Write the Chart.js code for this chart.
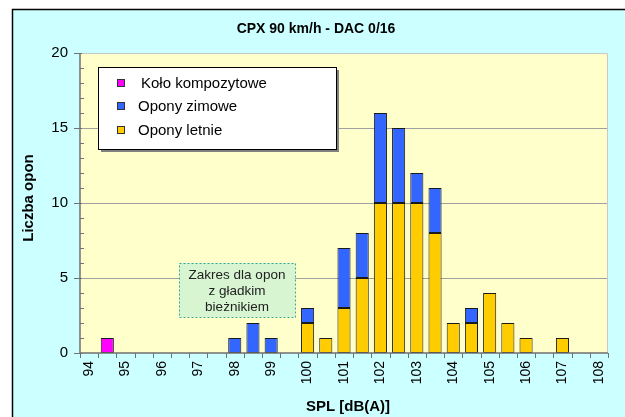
<!DOCTYPE html>
<html>
<head>
<meta charset="utf-8">
<script src="https://cdn.jsdelivr.net/npm/chart.js@4/dist/chart.umd.min.js"></script>
<style>
html,body{margin:0;padding:0;background:#fff;}
#wrap{width:625px;height:417px;position:relative;}
</style>
</head>
<body>
<div id="wrap"><canvas id="c" width="625" height="417"></canvas></div>
<script>
// ---- data ----
const categories = ['94','94.5','95','95.5','96','96.5','97','97.5','98','98.5','99','99.5','100','100.5','101','101.5','102','102.5','103','103.5','104','104.5','105','105.5','106','106.5','107','107.5','108'];
const xTickLabels = ['94','95','96','97','98','99','100','101','102','103','104','105','106','107','108'];
const oponyLetnie  = [0,0,0,0,0,0,0,0,0,0,0,0,2,1,3,5,10,10,10,8,2,2,4,2,1,0,1,0,0];
const oponyZimowe  = [0,0,0,0,0,0,0,0,1,2,1,0,1,0,4,3,6,5,2,3,0,1,0,0,0,0,0,0,0];
const koloKompozyt = [0,1,0,0,0,0,0,0,0,0,0,0,0,0,0,0,0,0,0,0,0,0,0,0,0,0,0,0,0];
const yTicks = [0,5,10,15,20];
const chartTitle = 'CPX 90 km/h - DAC 0/16';
const xTitle = 'SPL [dB(A)]';
const yTitle = 'Liczba opon';
const noteLines = ['Zakres dla opon','z gładkim','bieżnikiem'];

const FONT = '"Liberation Sans", Arial, sans-serif';

const decor = {
  id: 'decor',
  beforeDraw(chart) {
    const ctx = chart.ctx, a = chart.chartArea, y = chart.scales.y;
    ctx.save();
    ctx.fillStyle = '#ffffff';
    ctx.fillRect(0, 0, 625, 417);
    ctx.fillStyle = '#ccffff';
    ctx.fillRect(12, 9, 620, 415);
    ctx.strokeStyle = '#000';
    ctx.lineWidth = 1.5;
    ctx.strokeRect(12.5, 9.5, 620, 415);
    ctx.fillStyle = '#ffffcc';
    ctx.fillRect(a.left, a.top, a.right - a.left, a.bottom - a.top);
    // gridlines
    ctx.strokeStyle = '#a0a0a0';
    ctx.lineWidth = 1;
    yTicks.forEach(v => {
      if (v === 0 || v === 20) return;
      const py = Math.round(y.getPixelForValue(v)) + 0.5;
      ctx.beginPath(); ctx.moveTo(a.left, py); ctx.lineTo(a.right, py); ctx.stroke();
    });
    // top/right border
    ctx.strokeStyle = '#c8c8c8';
    ctx.beginPath();
    ctx.moveTo(a.left, a.top + 0.5); ctx.lineTo(a.right - 0.5, a.top + 0.5); ctx.lineTo(a.right - 0.5, a.bottom);
    ctx.stroke();
    ctx.restore();
  },
  afterDatasetsDraw(chart) {
    const ctx = chart.ctx, a = chart.chartArea, x = chart.scales.x, y = chart.scales.y;
    ctx.save();
    // axes
    ctx.strokeStyle = '#707070';
    ctx.lineWidth = 1.5;
    ctx.beginPath();
    ctx.moveTo(a.left, a.top); ctx.lineTo(a.left, a.bottom); ctx.lineTo(a.right, a.bottom);
    ctx.stroke();
    ctx.lineWidth = 1;
    // y ticks: minor each unit (inside), major every 5 (crossing)
    for (let v = 0; v <= 20; v++) {
      const py = Math.round(y.getPixelForValue(v)) + 0.5;
      ctx.beginPath();
      if (v % 5 === 0) { ctx.moveTo(a.left - 6, py); ctx.lineTo(a.left + 2, py); }
      else { ctx.moveTo(a.left, py); ctx.lineTo(a.left + 4, py); }
      ctx.stroke();
    }
    // x ticks at category boundaries
    const n = categories.length;
    const w = (a.right - a.left) / n;
    for (let i = 0; i <= n; i++) {
      const px = Math.round(a.left + i * w) + 0.5;
      ctx.beginPath(); ctx.moveTo(px, a.bottom); ctx.lineTo(px, a.bottom + 5); ctx.stroke();
    }
    // legend box
    const lx = 98, ly = 67, lw = 238, lh = 82;
    ctx.fillStyle = '#808080';
    ctx.fillRect(lx + 3, ly + 3, lw, lh);
    ctx.fillStyle = '#ffffff';
    ctx.fillRect(lx, ly, lw, lh);
    ctx.strokeStyle = '#000';
    ctx.lineWidth = 1;
    ctx.strokeRect(lx + 0.5, ly + 0.5, lw, lh);
    const items = [chart.data.datasets[2], chart.data.datasets[1], chart.data.datasets[0]];
    const rowsY = [83, 106, 130];
    ctx.font = '15px ' + FONT;
    ctx.textBaseline = 'middle';
    ctx.textAlign = 'left';
    items.forEach((ds, k) => {
      const cy = rowsY[k];
      ctx.fillStyle = ds.backgroundColor;
      ctx.fillRect(117, cy - 4, 8, 8);
      ctx.strokeStyle = '#333';
      ctx.strokeRect(117.5, cy - 3.5, 7, 7);
      ctx.fillStyle = '#000';
      ctx.fillText(ds.label, k === 0 ? 141 : 138, cy + 1);
    });
    // note box
    ctx.fillStyle = '#d8f5d2';
    ctx.fillRect(179, 263, 116, 54);
    ctx.strokeStyle = '#33a89a';
    ctx.setLineDash([2, 2]);
    ctx.strokeRect(179.5, 263.5, 116, 54);
    ctx.setLineDash([]);
    ctx.fillStyle = '#222';
    ctx.font = '13.5px ' + FONT;
    ctx.textAlign = 'center';
    noteLines.forEach((t, k) => ctx.fillText(t, 237, 275 + k * 16));
    // titles
    ctx.fillStyle = '#000';
    ctx.font = 'bold 14px ' + FONT;
    ctx.textAlign = 'center';
    ctx.fillText(chartTitle, 316, 29);
    ctx.font = 'bold 15px ' + FONT;
    ctx.fillText(xTitle, 348, 407);
    ctx.save();
    ctx.translate(29, 198);
    ctx.rotate(-Math.PI / 2);
    ctx.fillText(yTitle, 0, 0);
    ctx.restore();
    ctx.restore();
  }
};

new Chart(document.getElementById('c'), {
  type: 'bar',
  data: {
    labels: categories,
    datasets: [
      { label: 'Opony letnie', data: oponyLetnie, backgroundColor: '#ffcc00', borderColor: '#1a1a1a', borderWidth: 1, borderSkipped: false },
      { label: 'Opony zimowe', data: oponyZimowe, backgroundColor: '#3366ff', borderColor: '#1a1a1a', borderWidth: 1, borderSkipped: false },
      { label: 'Koło kompozytowe', data: koloKompozyt, backgroundColor: '#ff00ff', borderColor: '#1a1a1a', borderWidth: 1, borderSkipped: false }
    ]
  },
  options: {
    responsive: false,
    animation: false,
    devicePixelRatio: 1,
    layout: { padding: { top: 53, left: 0, right: 17, bottom: 0 } },
    plugins: { legend: { display: false }, title: { display: false }, tooltip: { enabled: false } },
    datasets: { bar: { barPercentage: 0.72, categoryPercentage: 1.0 } },
    scales: {
      x: {
        stacked: true,
        grid: { display: false, drawTicks: true, tickLength: 5 },
        border: { display: false },
        ticks: {
          autoSkip: false, maxRotation: 90, minRotation: 90, padding: 3,
          color: '#000', font: { family: FONT, size: 14 },
          callback: function(v, i) { return xTickLabels.includes(categories[i]) ? categories[i] : ''; }
        },
        afterFit(s) { s.height = 64; }
      },
      y: {
        stacked: true, min: 0, max: 20,
        grid: { display: false, drawTicks: true, tickLength: 8 },
        border: { display: false },
        ticks: { stepSize: 5, padding: 4, color: '#000', font: { family: FONT, size: 15 } },
        afterFit(s) { s.width = 80; }
      }
    }
  },
  plugins: [decor]
});
</script>
</body>
</html>
